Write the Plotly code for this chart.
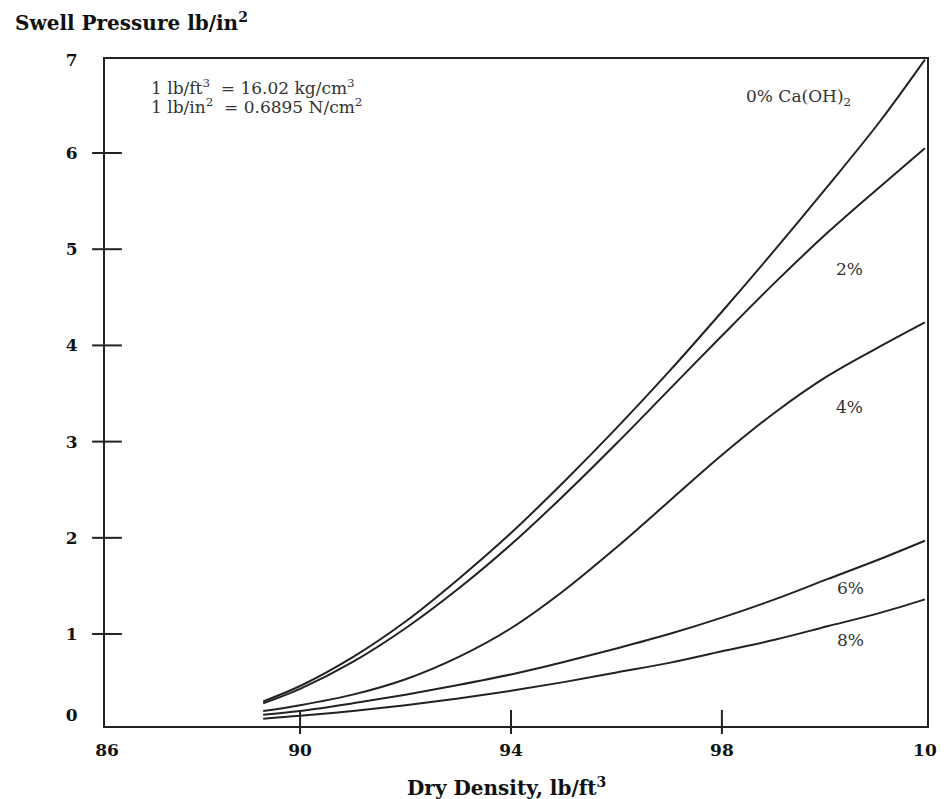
import plotly.graph_objects as go

# ---- data ----
density = [89.3, 90, 91, 92, 93, 94, 95, 96, 97, 98, 99, 100, 101, 101.85]
p0 = [0.30, 0.46, 0.76, 1.13, 1.57, 2.05, 2.58, 3.14, 3.73, 4.35, 4.99, 5.65, 6.33, 6.97]
p2 = [0.28, 0.43, 0.71, 1.06, 1.47, 1.93, 2.44, 2.98, 3.54, 4.10, 4.65, 5.17, 5.65, 6.05]
p4 = [0.20, 0.26, 0.37, 0.53, 0.76, 1.06, 1.45, 1.90, 2.38, 2.86, 3.30, 3.68, 3.99, 4.24]
p6 = [0.16, 0.20, 0.28, 0.37, 0.47, 0.58, 0.71, 0.85, 1.00, 1.17, 1.36, 1.57, 1.78, 1.97]
p8 = [0.12, 0.15, 0.20, 0.26, 0.33, 0.41, 0.50, 0.60, 0.70, 0.82, 0.94, 1.08, 1.22, 1.36]
series = [p0, p2, p4, p6, p8]

series_labels = ["0% Ca(OH)<sub>2</sub>", "2%", "4%", "6%", "8%"]
label_x = [99.46, 100.42, 100.42, 100.44, 100.44]
label_y = [6.58, 4.79, 3.36, 1.48, 0.94]

x_tick_vals = [86.34, 90, 94, 98, 101.85]
x_tick_text = ["86", "90", "94", "98", "10"]
x_tick_marks = [90, 94, 98]

y_tick_vals = [0.16, 1, 2, 3, 4, 5, 6, 6.97]
y_tick_text = ["0", "1", "2", "3", "4", "5", "6", "7"]
y_tick_marks = [1, 2, 3, 4, 5, 6]

x_range = [86.3, 101.89]
y_range = [0.044, 6.977]

FONT = "DejaVu Serif"
LINE = "#222222"

fig = go.Figure()
for s in series:
    fig.add_trace(go.Scatter(x=density, y=s, mode="lines",
                             line=dict(color=LINE, width=2, shape="spline", smoothing=1.0),
                             showlegend=False, hoverinfo="skip"))

for t, xv, yv in zip(series_labels, label_x, label_y):
    fig.add_annotation(x=xv, y=yv, xref="x", yref="y", text=t, showarrow=False,
                       font=dict(family=FONT, size=17, color="#333333"),
                       xanchor="center", yanchor="middle")

# conversion notes
fig.add_annotation(x=0.054, y=0.958, xref="paper", yref="paper", xanchor="left", yanchor="middle",
                   text="1 lb/ft<sup>3</sup>  = 16.02 kg/cm<sup>3</sup>", showarrow=False,
                   font=dict(family=FONT, size=17, color="#333333"))
fig.add_annotation(x=0.054, y=0.929, xref="paper", yref="paper", xanchor="left", yanchor="middle",
                   text="1 lb/in<sup>2</sup>  = 0.6895 N/cm<sup>2</sup>", showarrow=False,
                   font=dict(family=FONT, size=17, color="#333333"))

# axis titles
fig.add_annotation(x=-0.112, y=1.055, xref="paper", yref="paper", xanchor="left", yanchor="middle",
                   text="<b>Swell Pressure lb/in<sup>2</sup></b>", showarrow=False,
                   font=dict(family=FONT, size=20, color="#111111"))
fig.add_annotation(x=0.488, y=-0.0915, xref="paper", yref="paper", xanchor="center", yanchor="middle",
                   text="<b>Dry Density, lb/ft<sup>3</sup></b>", showarrow=False,
                   font=dict(family=FONT, size=20, color="#111111"))

# tick marks crossing the frame
for xv in x_tick_marks:
    fig.add_shape(type="line", xref="x", yref="paper", x0=xv, x1=xv, y0=-0.012, y1=0.024,
                  line=dict(color=LINE, width=2))
for yv in y_tick_marks:
    fig.add_shape(type="line", xref="paper", yref="y", x0=-0.0157, x1=0.0205, y0=yv, y1=yv,
                  line=dict(color=LINE, width=2))

fig.update_xaxes(range=x_range, tickvals=x_tick_vals, ticktext=x_tick_text, ticks="",
                 showgrid=False, zeroline=False, showline=True, mirror=True,
                 linecolor=LINE, linewidth=2, ticklabelstandoff=8,
                 tickfont=dict(family=FONT, size=17, color="#111111", weight="bold"))
fig.update_yaxes(range=y_range, tickvals=y_tick_vals, ticktext=y_tick_text, ticks="",
                 showgrid=False, zeroline=False, showline=True, mirror=True,
                 linecolor=LINE, linewidth=2, ticklabelstandoff=22,
                 tickfont=dict(family=FONT, size=17, color="#111111", weight="bold"))

fig.update_layout(width=949, height=799, margin=dict(l=105, r=14, t=59, b=73),
                  plot_bgcolor="white", paper_bgcolor="white", showlegend=False)

fig.write_html("out.html")
